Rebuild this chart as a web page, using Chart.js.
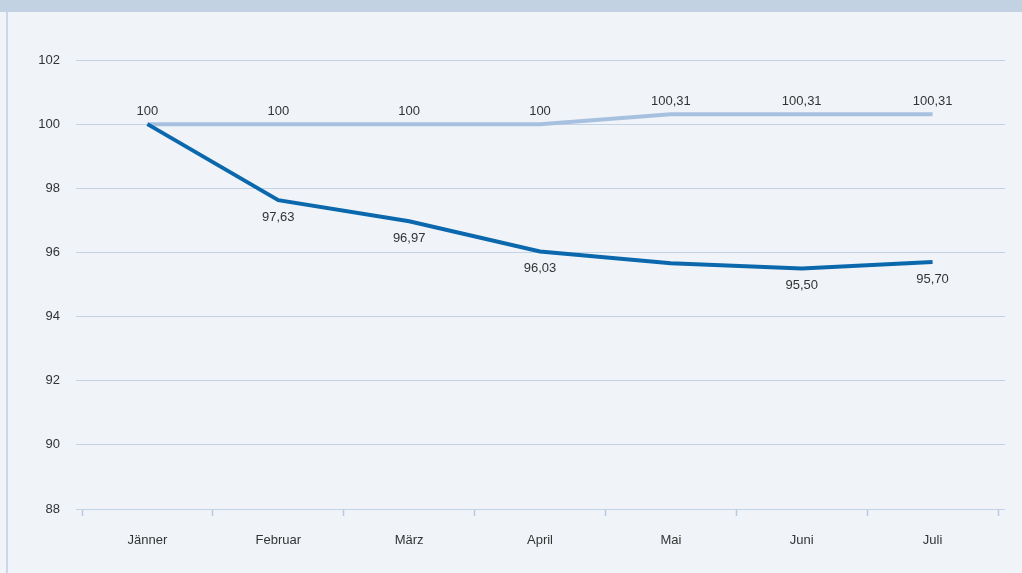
<!DOCTYPE html>
<html>
<head>
<meta charset="utf-8">
<script src="https://cdn.jsdelivr.net/npm/chart.js@4.4.1/dist/chart.umd.min.js"></script>
<style>
  html, body { margin: 0; padding: 0; background: #f0f4f9; }
  #frame { position: absolute; left: 0; top: 0; width: 1022px; height: 573px; }
  #band { position: absolute; left: 0; top: 0; width: 1022px; height: 12px; background: #c3d2e3; }
  #edge { position: absolute; left: 6px; top: 12px; width: 2px; height: 561px; background: #cad7e8; }
  #myChart { position: absolute; left: 0; top: 0; }
</style>
</head>
<body>
<div id="frame">
  <div id="band"></div>
  <div id="edge"></div>
  <canvas id="myChart" width="1022" height="573"></canvas>
</div>
<script>
//Data
const months = ["Jänner", "Februar", "März", "April", "Mai", "Juni", "Juli"];
const lightValues = [100, 100, 100, 100, 100.31, 100.31, 100.31];
const darkValues = [100, 97.63, 96.97, 96.03, 95.66, 95.50, 95.70];
const darkHiddenLabels = [0, 4]; // no label drawn at these points
const yTicks = [88, 90, 92, 94, 96, 98, 100, 102];

const gridColor = '#c3d3e7';

//Number format like 100,31
function fmt(v) {
    return Number.isInteger(v) ? String(v) : v.toFixed(2).replace('.', ',');
}

//Grid lines run a bit past the right edge of the plot
const gridTail = {
    id: 'gridTail',
    beforeDatasetsDraw(chart) {
        const ctx = chart.ctx;
        const y = chart.scales.y;
        const right = chart.chartArea.right;
        ctx.save();
        ctx.strokeStyle = gridColor;
        ctx.lineWidth = 1;
        y.ticks.forEach((t) => {
            // same pixel alignment as Chart.js uses for its grid
            const py = Math.round(y.getPixelForValue(t.value) - 0.5) + 0.5;
            ctx.beginPath();
            ctx.moveTo(right - 1, py);
            ctx.lineTo(right + 7, py);
            ctx.stroke();
        });
        ctx.restore();
    }
};

//Simple plugin to write the values next to the points
const valueLabels = {
    id: 'valueLabels',
    afterDatasetsDraw(chart) {
        const ctx = chart.ctx;
        ctx.save();
        ctx.font = '13px "Liberation Sans", Arial, sans-serif';
        ctx.fillStyle = '#333333';
        ctx.textAlign = 'center';
        ctx.textBaseline = 'middle';
        chart.data.datasets.forEach((ds, i) => {
            const meta = chart.getDatasetMeta(i);
            meta.data.forEach((pt, j) => {
                if (ds.labelPos === 'below' && darkHiddenLabels.includes(j)) return;
                const dy = ds.labelPos === 'above' ? -13 : 17;
                ctx.fillText(fmt(ds.data[j]), pt.x, pt.y + dy);
            });
        });
        ctx.restore();
    }
};

const ctx = document.getElementById('myChart').getContext('2d');
const myChart = new Chart(ctx, {
    type: 'line',
    data: {
        labels: months,
        datasets: [{
            data: darkValues,
            borderColor: '#0b68ad',
            borderWidth: 4,
            pointRadius: 0,
            tension: 0,
            labelPos: 'below'
        }, {
            data: lightValues,
            borderColor: '#a8c0e0',
            borderWidth: 4,
            pointRadius: 0,
            tension: 0,
            labelPos: 'above'
        }]
    },
    options: {
        responsive: false,
        animation: false,
        devicePixelRatio: 1,
        layout: {
            padding: { top: 60, right: 24, bottom: 14, left: 0 }
        },
        plugins: {
            legend: { display: false },
            tooltip: { enabled: false }
        },
        scales: {
            x: {
                offset: true,
                grid: {
                    offset: true,
                    drawOnChartArea: false,
                    drawTicks: true,
                    tickLength: 7,
                    tickWidth: 1.5,
                    color: '#b8cbe2'
                },
                border: { display: false },
                ticks: {
                    color: '#333333',
                    padding: 17,
                    autoSkip: false,
                    maxRotation: 0,
                    font: { family: '"Liberation Sans", Arial, sans-serif', size: 13 }
                },
                afterFit: (scale) => { scale.height = 50; }
            },
            y: {
                min: 88,
                max: 102,
                afterBuildTicks: (scale) => {
                    scale.ticks = yTicks.map((v) => ({ value: v }));
                },
                grid: {
                    color: gridColor,
                    tickLength: 6,
                    lineWidth: 1
                },
                border: { display: false },
                ticks: {
                    color: '#333333',
                    padding: 16,
                    font: { family: '"Liberation Sans", Arial, sans-serif', size: 13 }
                },
                afterFit: (scale) => { scale.width = 82; }
            }
        }
    },
    plugins: [gridTail, valueLabels]
});
</script>
</body>
</html>
